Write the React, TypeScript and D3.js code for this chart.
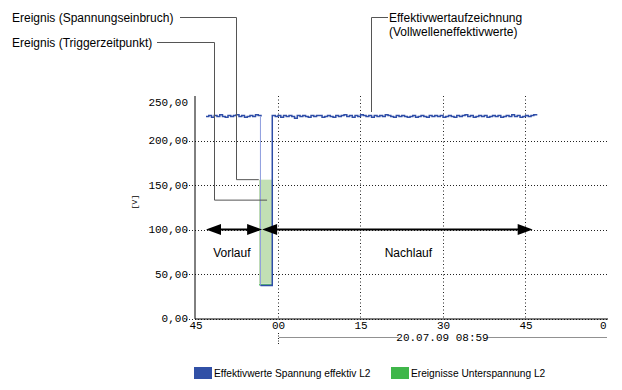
import React from "react";
import * as d3 from "d3";

// x axis: seconds relative to 08:59:00
const xTickValues = [-15, 0, 15, 30, 45, 60];
const xTickLabels = ["45", "00", "15", "30", "45", "0"];
const xGridValues = [0, 15, 30, 45];
const yTickValues = [0, 50, 100, 150, 200, 250];
const yTickLabels = ["0,00", "50,00", "100,00", "150,00", "200,00", "250,00"];
const yGridValues = [0, 50, 100, 150, 200];
const dateLabel = "20.07.09 08:59";

// RMS series, sampled every 0.5 s
const sampleStep = 0.5;
const preStart = -13;
const preValues = [
  227, 228, 226, 228, 227, 229, 227, 226, 228, 227, 228, 229, 227, 228, 226, 227,
  228, 227, 229, 228, 227,
];
const dipStart = -3.1;
const dipEnd = -0.95;
const dipValue = 37;
const postStart = -0.9;
const postValues = [
  228, 227, 228, 226, 228, 227, 228, 227, 225, 228, 227, 228, 227, 226, 228, 227, 228, 228, 226, 227,
  228, 227, 226, 228, 227, 228, 229, 227, 228, 226, 228, 227, 229, 228, 227, 228, 226, 228, 227, 228,
  227, 229, 228, 227, 226, 228, 227, 228, 227, 226, 227, 228, 226, 227, 228, 227, 226, 228, 227, 228,
  227, 228, 226, 227, 228, 227, 226, 228, 227, 228, 229, 227, 228, 226, 227, 228, 227, 228, 226, 227,
  228, 227, 228, 226, 227, 228, 227, 229, 227, 228, 226, 227, 228, 227, 228, 229, 228,
];

// undervoltage event
const eventStart = -3.0;
const eventEnd = -1.0;
const eventTop = 156;
const eventBottom = 39;

// Vorlauf / Nachlauf arrows
const arrowLabels = ["Vorlauf", "Nachlauf"];
const arrowFrom = [-13, -2.8];
const arrowTo = [-2.8, 46.4];
const arrowLabelAt = [-8.3, 23.8];
const arrowLevel = 100;

const legendLabels = ["Effektivwerte Spannung effektiv L2", "Ereignisse Unterspannung L2"];
const legendColors = ["#3150a6", "#3fb64a"];

const W = 622;
const H = 390;
const left = 195;
const right = 607.5;
const top = 96;
const bottom = 318.5;

const x = d3.scaleLinear().domain([-15, 60]).range([left, right]);
const y = d3.scaleLinear().domain([0, 250]).range([bottom, top]);

const mono = "'Liberation Mono', 'DejaVu Sans Mono', monospace";
const sans = "'Liberation Sans', Arial, sans-serif";

export default function App() {
  const pre: [number, number][] = preValues.map((v, i) => [preStart + i * sampleStep, v]);
  const post: [number, number][] = postValues.map((v, i) => [postStart + i * sampleStep, v]);
  const lastPre = pre[pre.length - 1];
  const firstPost = post[0];

  const line = d3
    .line<[number, number]>()
    .x((d) => x(d[0]))
    .y((d) => y(d[1]))
    .curve(d3.curveStepAfter);

  const preLine = line(pre);
  const dropLine = d3.line()([
    [x(dipStart), y(lastPre[1])],
    [x(dipStart), y(dipValue)],
  ]);
  const restLine = line([
    [dipStart, dipValue],
    [dipEnd, dipValue],
    [dipEnd, firstPost[1]],
    ...post,
  ]);

  const headLen = 15;
  const headHalf = 5.5;
  const ay = y(arrowLevel);

  const head = (tipX: number, dir: number) =>
    `${tipX},${ay} ${tipX - dir * headLen},${ay - headHalf} ${tipX - dir * headLen},${ay + headHalf}`;

  return (
    <svg
      width={W}
      height={H}
      style={{ position: "absolute", left: 0, top: 0, background: "#fff" }}
    >
      {/* horizontal grid */}
      {yGridValues.map((v) => (
        <line
          key={"hg" + v}
          x1={186}
          x2={right}
          y1={Math.round(y(v)) + 0.5}
          y2={Math.round(y(v)) + 0.5}
          stroke="#222"
          strokeDasharray="1,2"
        />
      ))}
      {/* vertical grid */}
      {xGridValues.map((v) => (
        <line
          key={"vg" + v}
          x1={Math.round(x(v)) + 0.5}
          x2={Math.round(x(v)) + 0.5}
          y1={top}
          y2={bottom}
          stroke="#222"
          strokeDasharray="1,2.5"
        />
      ))}

      {/* event box */}
      <rect
        x={x(eventStart) - 2}
        y={y(eventTop)}
        width={x(eventEnd) - x(eventStart) + 2.5}
        height={y(eventBottom) - y(eventTop)}
        fill="#c2dfb4"
      />
      <line
        x1={x(eventStart) - 2}
        x2={x(eventEnd) + 0.5}
        y1={y(eventBottom) + 1}
        y2={y(eventBottom) + 1}
        stroke="#3fb64a"
        strokeWidth={1.2}
      />

      {/* RMS series */}
      <path d={preLine ?? ""} fill="none" stroke="#2f4ea8" strokeWidth={1.5} />
      <path d={dropLine ?? ""} fill="none" stroke="#8e9ddf" strokeWidth={1} />
      <path d={restLine ?? ""} fill="none" stroke="#2f4ea8" strokeWidth={1.5} />

      {/* axes */}
      <line x1={left} x2={left} y1={top} y2={bottom + 0.5} stroke="#000" />
      <line x1={left} x2={right + 0.5} y1={bottom + 0.5} y2={bottom + 0.5} stroke="#000" />

      {yTickValues.map((v, i) => (
        <text
          key={"yt" + v}
          x={188}
          y={y(v) + (v === 250 ? 10 : 3.5)}
          textAnchor="end"
          fontFamily={mono}
          fontSize={11}
          fill="#000"
        >
          {yTickLabels[i]}
        </text>
      ))}
      {xTickValues.map((v, i) => (
        <text
          key={"xt" + v}
          x={x(v) + (v === 60 ? -1 : 1)}
          y={329}
          textAnchor={v === 60 ? "end" : "middle"}
          fontFamily={mono}
          fontSize={11}
          fill="#000"
        >
          {xTickLabels[i]}
        </text>
      ))}
      <text
        transform={`translate(137,202) rotate(-90)`}
        textAnchor="middle"
        fontFamily={mono}
        fontSize={8}
        fill="#000"
      >
        [V]
      </text>

      {/* date row */}
      <line
        x1={Math.round(x(0)) + 0.5}
        x2={Math.round(x(0)) + 0.5}
        y1={333}
        y2={345}
        stroke="#222"
        strokeDasharray="1,1.5"
      />
      <line x1={x(0) + 2} x2={right} y1={337.5} y2={337.5} stroke="#222" strokeDasharray="1,1" />
      <rect x={(x(0) + right) / 2 - 44} y={330} width={88} height={12} fill="#fff" />
      <text
        x={(x(0) + right) / 2}
        y={341}
        textAnchor="middle"
        fontFamily={mono}
        fontSize={11}
        fill="#000"
      >
        {dateLabel}
      </text>

      {/* Vorlauf / Nachlauf arrows */}
      {arrowLabels.map((lab, i) => (
        <g key={lab}>
          <line
            x1={x(arrowFrom[i]) + 4}
            x2={x(arrowTo[i]) - 4}
            y1={ay}
            y2={ay}
            stroke="#000"
            strokeWidth={2}
          />
          <polygon points={head(x(arrowFrom[i]), -1)} fill="#000" />
          <polygon points={head(x(arrowTo[i]), 1)} fill="#000" />
          <text
            x={x(arrowLabelAt[i])}
            y={257}
            textAnchor="middle"
            fontFamily={sans}
            fontSize={12}
            fill="#000"
          >
            {lab}
          </text>
        </g>
      ))}

      {/* callouts */}
      <g fill="none" stroke="#555" strokeWidth={1}>
        <polyline points={`180,17.5 236.5,17.5 236.5,${y(156)} ${x(-3.4)},${y(156)}`} />
        <polyline points={`157,42.5 214.5,42.5 214.5,${y(133)} ${x(-1.9)},${y(133)}`} />
        <polyline points={`388,17.5 371.5,17.5 371.5,${y(232)}`} />
      </g>
      <g fontFamily={sans} fontSize={12} fill="#000">
        <text x={12} y={22}>Ereignis (Spannungseinbruch)</text>
        <text x={12} y={47}>Ereignis (Triggerzeitpunkt)</text>
        <text x={389} y={22}>Effektivwertaufzeichnung</text>
        <text x={389} y={36}>(Vollwelleneffektivwerte)</text>
      </g>

      {/* legend */}
      {legendLabels.map((lab, i) => (
        <g key={lab} transform={`translate(${i === 0 ? 194 : 391},367)`}>
          <rect width={18} height={12} fill={legendColors[i]} />
          <text x={20} y={10} fontFamily={sans} fontSize={10.2} fill="#000">
            {lab}
          </text>
        </g>
      ))}
    </svg>
  );
}
